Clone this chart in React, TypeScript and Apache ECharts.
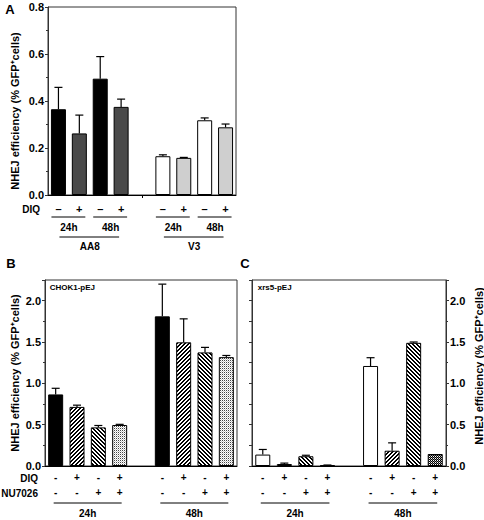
import React, { useEffect, useRef } from 'react';
import * as echarts from 'echarts';

// ---------- data ----------
const categoriesA = ['AA8 24h DIQ-', 'AA8 24h DIQ+', 'AA8 48h DIQ-', 'AA8 48h DIQ+', '', 'V3 24h DIQ-', 'V3 24h DIQ+', 'V3 48h DIQ-', 'V3 48h DIQ+'];
const diqA = ['–', '+', '–', '+', '', '–', '+', '–', '+'];
const valuesA = [0.365, 0.262, 0.495, 0.375, null, 0.165, 0.158, 0.318, 0.288];
const errorsA = [0.093, 0.078, 0.094, 0.033, null, 0.006, 0.002, 0.010, 0.014];
const timeLabelsA = ['24h', '48h', '24h', '48h'];
const cellLinesA = ['AA8', 'V3'];

const categoriesBC = ['24h DIQ- NU-', '24h DIQ+ NU-', '24h DIQ- NU+', '24h DIQ+ NU+', '', '48h DIQ- NU-', '48h DIQ+ NU-', '48h DIQ- NU+', '48h DIQ+ NU+'];
const diqBC = ['-', '+', '-', '+', '', '-', '+', '-', '+'];
const nuBC = ['-', '-', '+', '+', '', '-', '-', '+', '+'];
const valuesB = [0.866, 0.715, 0.467, 0.496, null, 1.81, 1.496, 1.374, 1.317];
const errorsB = [0.074, 0.021, 0.023, 0.008, null, 0.39, 0.284, 0.061, 0.02];
const valuesC = [0.138, 0.024, 0.118, 0.008, null, 1.21, 0.185, 1.49, 0.145];
const errorsC = [0.062, 0.011, 0.012, 0.004, null, 0.10, 0.095, 0.01, 0];
const timeLabelsBC = ['24h', '48h'];
const cellLabelB = 'CHOK1-pEJ';
const cellLabelC = 'xrs5-pEJ';
const yTitle = 'NHEJ efficiency (% GFP⁺cells)';

// ---------- styles ----------
const FONT = '"Liberation Sans", Arial, Helvetica, sans-serif';

// build a small repeating tile from a pixel map (each char -> colour)
function tile(rows: string[], palette: Record<string, string>) {
  const h = rows.length, w = rows[0].length;
  const c = document.createElement('canvas');
  c.width = w; c.height = h;
  const ctx = c.getContext('2d')!;
  for (let y = 0; y < h; y++) {
    for (let x = 0; x < w; x++) {
      ctx.fillStyle = palette[rows[y][x]];
      ctx.fillRect(x, y, 1, 1);
    }
  }
  return { image: c, repeat: 'repeat', imageWidth: w, imageHeight: h };
}

export default function App() {
  const ref = useRef<HTMLDivElement>(null);
  useEffect(() => {
    const pal = { k: '#000', w: '#fff', g: '#888', l: '#c8c8c8', d: '#444' };
    const fwd = tile(['kwwk', 'wwkk', 'wkkw', 'kkww'], pal); // "/" stripes
    const back = tile(['kkww', 'wkkw', 'wwkk', 'kwwk'], pal); // "\" stripes
    const dotsLight = tile(['dw', 'wl'], pal);
    const checkDark = tile(['kw', 'gk'], pal);
    const fillsA: any[] = ['#000', '#4a4a4a', '#000', '#4a4a4a', null, '#fff', '#cfcfcf', '#fff', '#cfcfcf'];
    const fillsB: any[] = ['#000', fwd, back, dotsLight, null, '#000', fwd, back, dotsLight];
    const fillsC: any[] = ['#fff', fwd, back, checkDark, null, '#fff', fwd, back, checkDark];

    const barData = (values: (number | null)[], fills: any[]) =>
      values.map((v, i) => (v == null ? '-' : { value: v, itemStyle: { color: fills[i], borderColor: '#000', borderWidth: 1 } }));
    const errData = (values: (number | null)[], errs: (number | null)[]) => {
      const out: number[][] = [];
      values.forEach((v, i) => { if (v != null) out.push([i, v, errs[i] as number]); });
      return out;
    };
    const renderErr = (params: any, api: any) => {
      const idx = api.value(0), v = api.value(1), e = api.value(2);
      if (!(e > 0)) return null;
      const b = api.coord([idx, v]);
      const t = api.coord([idx, v + e]);
      return {
        type: 'group',
        children: [
          { type: 'line', shape: { x1: b[0], y1: b[1], x2: t[0], y2: t[1] }, style: { stroke: '#000', lineWidth: 1.2 } },
          { type: 'line', shape: { x1: t[0] - 4, y1: t[1], x2: t[0] + 4, y2: t[1] }, style: { stroke: '#000', lineWidth: 1.2 } },
        ],
      };
    };
    const labelBase = { fontFamily: FONT, fontWeight: 'bold', color: '#000' };

    const chart = echarts.init(ref.current!, null, { renderer: 'svg' });
    const grid = (left: number, top: number, width: number, height: number) => ({
      left, top, width, height, show: true, borderColor: '#333', borderWidth: 1, backgroundColor: 'transparent', containLabel: false,
    });
    const yCommon = {
      type: 'value', min: 0, splitLine: { show: false },
      axisLine: { show: true, lineStyle: { color: '#333', width: 1 } },
      axisTick: { show: true, inside: false, length: 3, lineStyle: { color: '#333' } },
      minorTick: { show: true, splitNumber: 2, length: 2, lineStyle: { color: '#333' } },
      axisLabel: { ...labelBase, fontSize: 11, margin: 4, formatter: (v: number) => v.toFixed(1), showMaxLabel: false },
    };
    const xBC = (gridIndex: number) => ({
      type: 'category', gridIndex, data: categoriesBC, boundaryGap: true,
      axisLine: { show: true, lineStyle: { color: '#000' } }, axisTick: { show: false },
      axisLabel: { ...labelBase, fontSize: 10, interval: 0, margin: 4, lineHeight: 15, formatter: (_: string, i: number) => diqBC[i] + '\n' + nuBC[i] },
    });
    const option: any = {
      animation: false,
      textStyle: { fontFamily: FONT },
      grid: [grid(48, 7, 188, 188), grid(45, 280, 192, 186), grid(252, 280, 194, 186)],
      xAxis: [
        {
          type: 'category', gridIndex: 0, data: categoriesA, boundaryGap: true,
          axisLine: { show: true, lineStyle: { color: '#000' } },
          axisTick: { show: true, alignWithLabel: true, interval: (i: number) => i === 4, length: 3, lineStyle: { color: '#000' } },
          axisLabel: { ...labelBase, fontSize: 11, interval: 0, margin: 8, lineHeight: 12, formatter: (_: string, i: number) => diqA[i] },
        },
        xBC(1),
        xBC(2),
      ],
      yAxis: [
        { ...yCommon, gridIndex: 0, max: 0.8, interval: 0.2, axisLabel: { ...yCommon.axisLabel, showMaxLabel: true } },
        { ...yCommon, gridIndex: 1, max: 2.25, interval: 0.5 },
        { ...yCommon, gridIndex: 2, max: 2.25, interval: 0.25, position: 'left', minorTick: { show: false }, axisLabel: { show: false } },
        { ...yCommon, gridIndex: 2, max: 2.25, interval: 0.5, position: 'right' },
      ],
      series: [
        { type: 'bar', xAxisIndex: 0, yAxisIndex: 0, barWidth: 15, data: barData(valuesA, fillsA), z: 2 },
        { type: 'custom', xAxisIndex: 0, yAxisIndex: 0, renderItem: renderErr, data: errData(valuesA, errorsA), encode: { x: 0, y: 1 }, z: 3 },
        { type: 'bar', xAxisIndex: 1, yAxisIndex: 1, barWidth: 15, data: barData(valuesB, fillsB), z: 2 },
        { type: 'custom', xAxisIndex: 1, yAxisIndex: 1, renderItem: renderErr, data: errData(valuesB, errorsB), encode: { x: 0, y: 1 }, z: 3 },
        { type: 'bar', xAxisIndex: 2, yAxisIndex: 3, barWidth: 15, data: barData(valuesC, fillsC), z: 2 },
        { type: 'custom', xAxisIndex: 2, yAxisIndex: 3, renderItem: renderErr, data: errData(valuesC, errorsC), encode: { x: 0, y: 1 }, z: 3 },
      ],
    };
    chart.setOption(option);

    // annotations positioned from the axes
    const cx = (axis: number, i: number) => chart.convertToPixel({ xAxisIndex: axis } as any, i) as unknown as number;
    const y0 = (axis: number) => chart.convertToPixel({ yAxisIndex: axis } as any, 0) as unknown as number;
    const text = (x: number, y: number, t: string, size: number, align = 'center', rotation = 0) => ({
      type: 'text', x, y, rotation, silent: true,
      style: { text: t, fill: '#000', fontFamily: FONT, fontWeight: 'bold', fontSize: size, align, verticalAlign: 'middle' },
    });
    const line = (x1: number, y1: number, x2: number, y2: number) => ({
      type: 'line', silent: true, shape: { x1, y1, x2, y2 }, style: { stroke: '#000', lineWidth: 1 },
    });
    const g: any[] = [];
    // Panel A
    const bA = y0(0);
    g.push(text(10, 9, 'A', 13));
    g.push(text(15, 111, yTitle, 11, 'center', Math.PI / 2));
    g.push(text(40, bA + 14, 'DIQ', 10, 'right'));
    [[0, 1], [2, 3], [5, 6], [7, 8]].forEach(([a, b], k) => {
      const xa = cx(0, a), xb = cx(0, b);
      g.push(line(xa - 7, bA + 22, xb + 6, bA + 22));
      g.push(text((xa + xb) / 2, bA + 32, timeLabelsA[k], 10));
    });
    [[0, 3], [5, 8]].forEach(([a, b], k) => {
      const xa = cx(0, a), xb = cx(0, b);
      g.push(line(xa + 1, bA + 42, xb - 2, bA + 42));
      g.push(text((xa + xb) / 2, bA + 51, cellLinesA[k], 10));
    });
    // Panels B and C
    g.push(text(11, 263, 'B', 13));
    g.push(text(245, 263, 'C', 13));
    const bB = y0(1);
    g.push(text(15, 373, yTitle, 11, 'center', Math.PI / 2));
    g.push(text(479, 366, yTitle, 11, 'center', Math.PI / 2));
    g.push(text(cx(1, 0) - 6, 287, cellLabelB, 8, 'left'));
    g.push(text(cx(2, 0) - 5, 287, cellLabelC, 8, 'left'));
    g.push(text(38, bB + 12, 'DIQ', 10, 'right'));
    g.push(text(38, bB + 27, 'NU7026', 10, 'right'));
    [1, 2].forEach((ax) => {
      [[0, 3], [5, 8]].forEach(([a, b], k) => {
        const xa = cx(ax, a), xb = cx(ax, b);
        g.push(line(xa - 2, bB + 37, xb + 2, bB + 37));
        g.push(text((xa + xb) / 2, bB + 47, timeLabelsBC[k], 10));
      });
    });
    chart.setOption({ graphic: g });
    return () => chart.dispose();
  }, []);
  return <div ref={ref} style={{ position: 'absolute', left: 0, top: 0, width: 484, height: 520 }} />;
}
